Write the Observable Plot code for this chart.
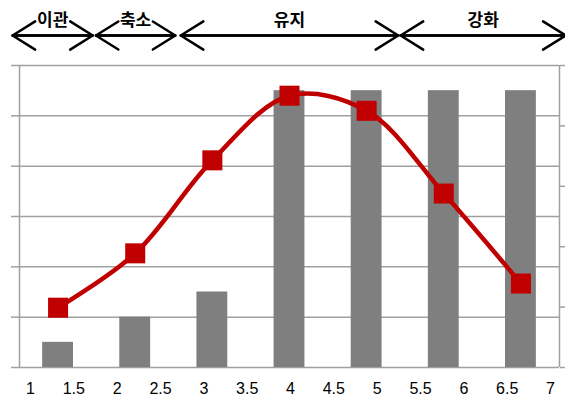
<!DOCTYPE html>
<html><head><meta charset="utf-8">
<script src="https://cdn.jsdelivr.net/npm/d3@7"></script>
<script src="https://cdn.jsdelivr.net/npm/@observablehq/plot@0.6"></script>
<style>
html,body{margin:0;padding:0;background:#fff;}
#chart{position:relative;width:565px;height:396px;}
#chart svg{position:absolute;left:0;top:0;}
</style></head><body><div id="chart"></div>
<script>
// ---- data ----
const categories = [1, 2, 3, 4, 5, 6, 7];
const barValues = [0.5, 1, 1.5, 5.5, 5.5, 5.5, 5.5];        // left axis (0–6)
const lineValues = [0.99, 1.89, 3.43, 4.5, 4.25, 2.88, 1.39]; // right axis (0–5)
const leftTicks = [0, 1, 2, 3, 4, 5, 6];
const rightTicks = [0, 1, 2, 3, 4, 5];
const xTickLabels = [1, 1.5, 2, 2.5, 3, 3.5, 4, 4.5, 5, 5.5, 6, 6.5, 7];
const phaseLabels = ["이관", "축소", "유지", "강화"];
const phaseStart = [0.41, 1.49, 2.59, 5.44];   // in category units
const phaseEnd = [1.45, 2.52, 5.41, 7.58];

// ---- derived tables ----
const toLeft = d3.scaleLinear([0, 5], [0, 6]); // right axis -> left axis units
const rows = categories.map((c, i) => ({c, bar: barValues[i], line: toLeft(lineValues[i])}));
const phases = phaseLabels.map((label, i) => ({
  label, x1: phaseStart[i], x2: phaseEnd[i], xm: (phaseStart[i] + phaseEnd[i]) / 2
}));

const W = 565, H = 396;
const gray = "#a0a0a0";
const red = "#c00000";
const yTop = d3.max(leftTicks);
const arrowStyle = {y1: yTop, y2: yTop, dy: -30, stroke: "#000", strokeWidth: 2.5, headLength: 16, headAngle: 64};

const main = Plot.plot({
  width: W, height: H,
  marginLeft: 19, marginRight: 6, marginTop: 65, marginBottom: 29,
  x: {type: "linear", domain: [0.5, 7.5], axis: null, label: null},
  y: {domain: [0, 6], axis: null, label: null},
  style: {background: "transparent", overflow: "visible", fontFamily: "Liberation Sans, Arial, sans-serif"},
  marks: [
    Plot.ruleY(leftTicks, {stroke: gray, strokeWidth: 1.5}),
    Plot.ruleX([0.5, 7.5], {stroke: gray, strokeWidth: 1.5}),
    Plot.axisY(leftTicks, {anchor: "left", tickSize: 8, tickFormat: () => "", label: null, stroke: gray, strokeWidth: 1.5}),
    Plot.axisY(rightTicks.map(toLeft), {anchor: "right", tickSize: 8, tickFormat: () => "", label: null, stroke: gray, strokeWidth: 1.5}),
    Plot.rectY(rows, {x1: d => d.c - 0.2, x2: d => d.c + 0.2, y: "bar", fill: "#7f7f7f"}),
    Plot.line(rows, {x: "c", y: "line", stroke: red, strokeWidth: 4.5, curve: "catmull-rom"}),
    Plot.dot(rows, {x: "c", y: "line", symbol: "square", r: 11.3, fill: red, stroke: "none"}),
    Plot.arrow(phases, {x1: "x2", x2: "x1", ...arrowStyle}),
    Plot.arrow(phases, {x1: "x1", x2: "x2", ...arrowStyle}),
    Plot.text(phases, {x: "xm", y: yTop, dy: -45, text: "label", fontSize: 17, fontWeight: "bold", fill: "#000", fontFamily: "Noto Sans CJK KR, sans-serif"})
  ]
});

const bottom = Plot.plot({
  width: W, height: H,
  marginLeft: 30, marginRight: 15, marginTop: 65, marginBottom: 29,
  x: {domain: [1, 7], label: null, axis: null},
  y: {domain: [0, 1], axis: null, label: null},
  style: {background: "transparent", fontFamily: "Liberation Sans, Arial, sans-serif"},
  marks: [
    Plot.axisX(xTickLabels, {anchor: "bottom", tickSize: 0, tickPadding: 15, fontSize: 16, fill: "#000", label: null, tickFormat: d => String(d)})
  ]
});

document.getElementById("chart").append(main, bottom);
</script></body></html>
